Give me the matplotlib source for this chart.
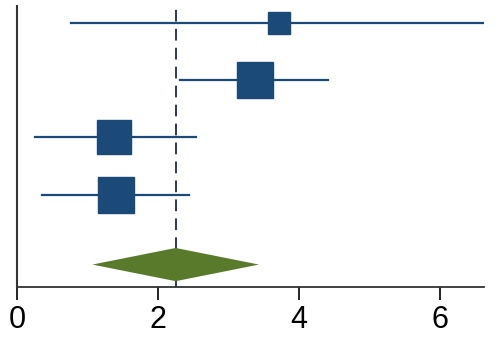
import matplotlib
matplotlib.use("Agg")
import matplotlib.pyplot as plt

# estimates, lower and upper limits
estimativas = [3.71, 3.37, 1.38, 1.40]
limites_inf = [0.77, 2.31, 0.25, 0.35]
limites_sup = [6.70, 4.41, 2.54, 2.44]
tamanhos = [16.5, 26.5, 25.0, 26.5]
posicoes = [4, 3, 2, 1]

geral = 2.25
geral_inf = 1.07
geral_sup = 3.43
pos_geral = -0.22

azul = "#1c4a78"
verde = "#5a7a2b"

fig = plt.figure(figsize=(4.97, 3.44), dpi=100)
ax = fig.add_axes([0.034, 0.166, 0.94, 0.817])

ax.axvline(geral, color="#1a2a4a", lw=1.3, ls=(0, (6.5, 4)), zorder=1)

for est, li, ls_, tam, y in zip(estimativas, limites_inf, limites_sup, tamanhos, posicoes):
    ax.plot([li, ls_], [y, y], color=azul, lw=1.6, zorder=2)
    ax.plot(est, y, marker="s", ms=tam, color=azul, mec=azul, zorder=3)

meia_altura = 0.29
ax.fill([geral_inf, geral, geral_sup, geral],
        [pos_geral, pos_geral + meia_altura, pos_geral, pos_geral - meia_altura],
        color=verde, lw=0, zorder=3)

ax.set_xlim(0, 6.62)
ax.set_ylim(-0.61, 4.3)
ax.set_xticks([0, 2, 4, 6])
ax.set_yticks([])
ax.tick_params(axis="x", length=9, width=1.2, labelsize=22, pad=4)
for lbl in ax.get_xticklabels():
    lbl.set_family("Liberation Sans")

ax.spines["top"].set_visible(False)
ax.spines["right"].set_visible(False)
ax.spines["left"].set_color("#333333")
ax.spines["left"].set_linewidth(1.5)
ax.spines["bottom"].set_color("#333333")
ax.spines["bottom"].set_linewidth(1.3)

plt.savefig("out.png", dpi=100)
plt.close()
